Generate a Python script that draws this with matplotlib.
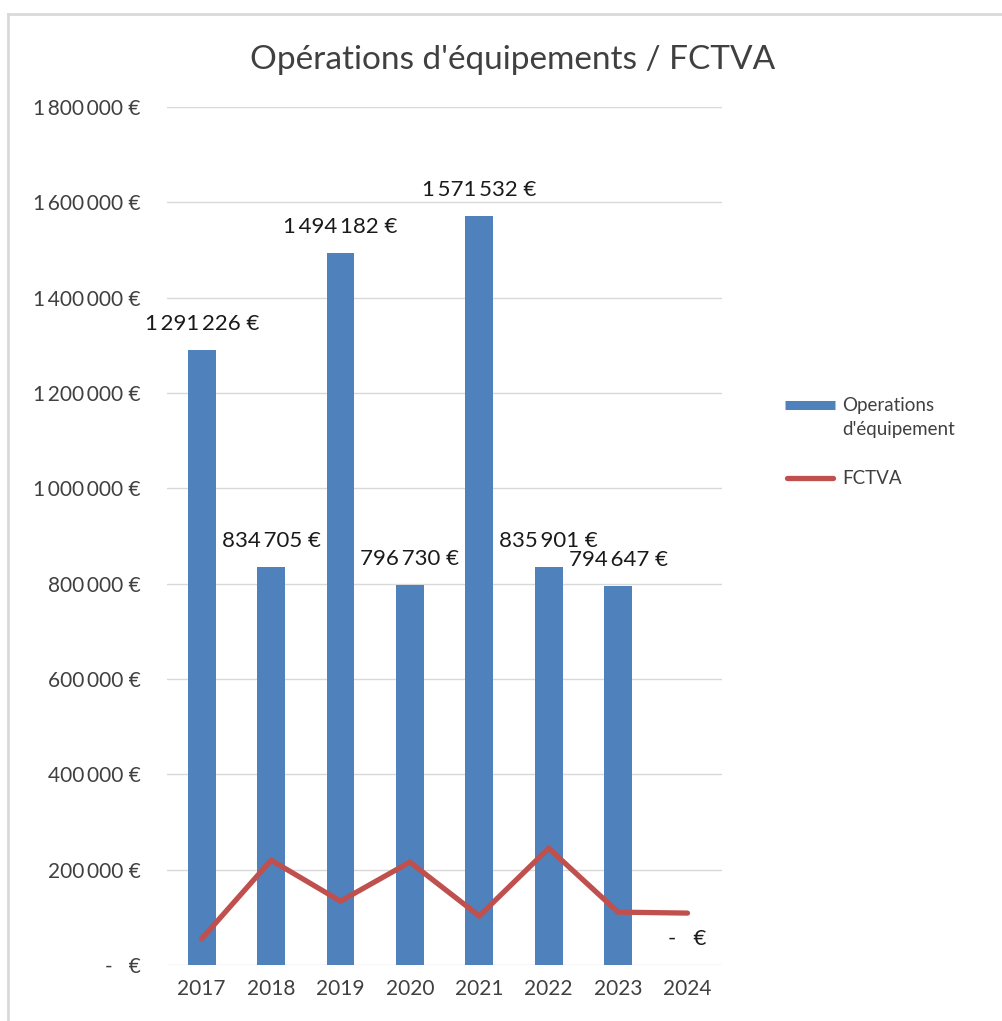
import matplotlib
matplotlib.use("Agg")
import matplotlib.pyplot as plt
from matplotlib.lines import Line2D

plt.rcParams["font.family"] = ["Lato", "DejaVu Sans"]

# ---------------------------------
# Données
# ---------------------------------

years = ["2017", "2018", "2019", "2020", "2021", "2022", "2023", "2024"]
operations = [1291226, 834705, 1494182, 796730, 1571532, 835901, 794647, 0]
fctva = [55000, 220000, 134000, 216000, 103000, 245000, 111000, 109000]
yticks = [0, 200000, 400000, 600000, 800000, 1000000, 1200000, 1400000, 1600000, 1800000]

BLUE = "#4F81BD"
RED = "#C0504D"


def euro(v):
    if v == 0:
        return "-   €"
    s = f"{v:,}".replace(",", "\u2009")
    return s + " €"


# ---------------------------------
# Figure
# ---------------------------------

fig = plt.figure(figsize=(10.03, 10.21), dpi=100)
ax = fig.add_axes([0.1665, 0.0548, 0.5535, 0.8404])

x = list(range(len(years)))

ax.bar(x, operations, width=0.4, color=BLUE, zorder=2)
ax.plot(x, fctva, color=RED, linewidth=3.8, solid_capstyle="round",
        solid_joinstyle="miter", zorder=3)

for xi, v in zip(x, operations):
    ax.annotate(euro(v), (xi, v), xytext=(0, 26), textcoords="offset pixels",
                ha="center", va="center", fontsize=16, color="#1a1a1a")

ax.set_xlim(-0.5, len(years) - 0.5)
ax.set_ylim(0, 1800000)
ax.set_xticks(x)
ax.set_xticklabels(years, fontsize=15, color="#404040")
ax.set_yticks(yticks)
ax.set_yticklabels([euro(t) for t in yticks], fontsize=15, color="#404040")
ax.tick_params(length=0, axis="both")
ax.tick_params(axis="y", pad=19)
ax.tick_params(axis="x", pad=10)

for s in ax.spines.values():
    s.set_visible(False)
ax.grid(axis="y", color="#d9d9d9", linewidth=1, zorder=0)
ax.set_axisbelow(True)

fig.text(0.511, 1 - 60 / 1021, "Opérations d'équipements / FCTVA",
         ha="center", va="center", fontsize=24, color="#404040")

# ---------------------------------
# Légende
# ---------------------------------

W, H = 1003, 1021
fig.add_artist(Line2D([785 / W, 835 / W], [1 - 405 / H, 1 - 405 / H],
                      color=BLUE, linewidth=6.5, solid_capstyle="butt"))
fig.add_artist(Line2D([787 / W, 833 / W], [1 - 478 / H, 1 - 478 / H],
                      color=RED, linewidth=3.8, solid_capstyle="round"))
fig.text(842 / W, 1 - 405 / H, "Operations", ha="left", va="center",
         fontsize=13.5, color="#404040")
fig.text(842 / W, 1 - 430 / H, "d'équipement", ha="left", va="center",
         fontsize=13.5, color="#404040")
fig.text(842 / W, 1 - 478 / H, "FCTVA", ha="left", va="center",
         fontsize=13.5, color="#404040")

# cadre du graphique
fig.add_artist(Line2D([0.008, 1.0], [1 - 14 / H, 1 - 14 / H],
                      color="#d9d9d9", linewidth=2))
fig.add_artist(Line2D([0.008, 0.008], [0.0, 1 - 14 / H],
                      color="#d9d9d9", linewidth=2))

fig.savefig("out.png", dpi=100)
